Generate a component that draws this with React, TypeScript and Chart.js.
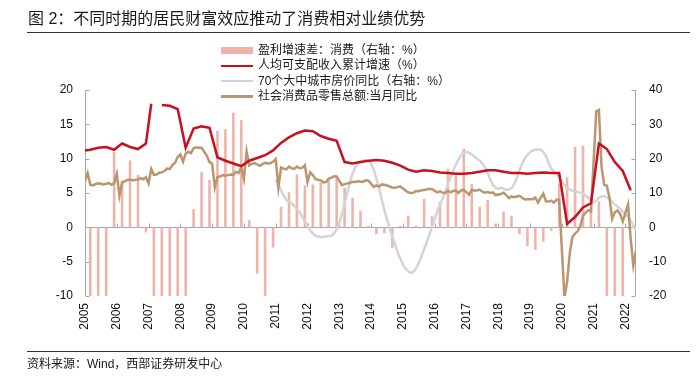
import React, { useEffect, useRef } from 'react';
import { Chart, registerables } from 'chart.js';

Chart.register(...registerables);

// ---------------- data ----------------
const START_YEAR = 2005;
const LAST_INDEX = 208; // 2022-05, month index from 2005-01
const yearTicks = [0, 12, 24, 36, 48, 60, 72, 84, 96, 108, 120, 132, 144, 156, 168, 180, 192, 204];

const legendLabels = [
  '盈利增速差：消费（右轴：%）',
  '人均可支配收入累计增速（%）',
  '70个大中城市房价同比（右轴：%）',
  '社会消费品零售总额:当月同比',
];

// 盈利增速差：消费 (quarterly, right axis) 2005Q1 .. 2021Q4
const spreadValues = [
  -25, -25, -25, 21.9,
  13.6, 19.5, 15.3, -1.5,
  -25, -25, -25, -25,
  -25, 5.3, 16.1, 13.8,
  28.1, 28.6, 33.4, 31.2,
  2.1, -13.5, -25, -5.9,
  6.0, 10.2, 15.4, 12.2,
  12.5, 13.1, 13.8, 14.4,
  11.5, 8.6, 4.8, 0.4,
  -2.0, -1.7, -5.9, 0.5,
  3.4, 0.5, 8.3, 3.2,
  7.5, 17.1, 15.1, 22.9,
  12.7, 6.0, 8.0, 1.1,
  4.6, 3.4, -2.0, -5.5,
  -6.5, -4.2, -1.0, 12.7,
  14.6, 23.4, 23.7, 5.5,
  7.5, -25, -25, -25,
];

// 人均可支配收入累计增速 (left axis): month index -> value
const incomeMonths = [
  0, 2, 5, 8, 11, 14, 17, 20, 23, 25, 29, 32, 35, 38, 41, 44, 47, 50, 53, 56, 59,
  62, 65, 68, 71, 74, 77, 80, 83, 86, 89, 92, 95, 98, 101, 104, 107, 110, 113, 116, 119,
  122, 125, 128, 131, 134, 137, 140, 143, 146, 149, 152, 155, 158, 161, 164, 167,
  170, 173, 176, 179, 182, 185, 188, 191, 194, 197, 200, 203, 206,
];
const incomeGrowth = [
  11.2, 11.3, 11.6, 11.7, 11.3, 12.2, 11.7, 11.4, 12.2, 18.0, 17.8, 17.7, 17.2, 11.6, 14.4, 14.7, 14.5, 10.2, 9.7, 9.3, 8.9,
  9.7, 10.1, 10.5, 11.2, 12.3, 13.1, 13.7, 14.1, 14.0, 13.3, 12.9, 12.6, 9.5, 9.3, 9.5, 9.7, 9.8, 9.7, 9.4, 9.0,
  8.4, 8.1, 8.3, 8.2, 8.0, 7.9, 7.8, 7.8, 7.9, 8.1, 8.3, 8.3, 8.1, 7.9, 7.9, 7.8,
  7.9, 8.0, 7.9, 7.9, 0.5, 1.5, 2.9, 3.5, 12.2, 11.4, 9.5, 8.2, 5.4,
];

// 70个大中城市房价同比 (right axis), monthly from 2011-01
const houseStartIndex = 72;
const houseYoY = [
  13.8, 12.4, 10.8, 9.2, 8.0, 7.4, 7.0, 6.2, 5.3, 4.4, 3.2, 1.8,
  0.4, -0.9, -1.8, -2.4, -2.7, -2.8, -2.8, -2.7, -2.6, -2.5, -1.8, -0.6,
  1.3, 3.9, 7.0, 10.0, 13.2, 15.7, 17.4, 18.6, 19.1, 19.4, 19.5, 19.3,
  18.6, 16.8, 14.2, 11.4, 8.2, 5.0, 2.3, -0.4, -2.6, -4.9, -7.2, -9.1,
  -10.8, -12.0, -12.8, -13.3, -12.9, -11.9, -10.3, -8.4, -6.4, -4.3, -2.1, 0.2,
  2.5, 4.6, 6.6, 8.4, 10.4, 12.4, 14.5, 16.5, 18.3, 19.8, 21.0, 21.7,
  21.9, 21.7, 21.2, 20.6, 20.0, 19.4, 18.6, 17.4, 15.8, 13.9, 12.3, 11.5,
  11.2, 11.6, 11.3, 10.9, 11.0, 11.3, 12.6, 14.4, 16.6, 18.5, 20.0, 21.1,
  21.9, 22.4, 22.6, 22.7, 22.6, 22.0, 20.8, 18.8, 17.1, 16.2, 15.6, 14.6,
  13.4, 12.3, 11.4, 11.0, 10.7, 10.5, 10.3, 10.1, 9.8, 9.2, 8.6, 7.8,
  7.3, 7.8, 8.6, 9.0, 9.1, 8.7, 8.1, 7.4, 6.7, 6.1, 5.4, 4.6,
  3.8, 2.9, 1.8, 0.5, -1.0,
];

// 社会消费品零售总额:当月同比 (right axis), monthly 2005-01 .. 2022-05
const retailYoY: (number | null)[] = [
  13.5, 15.8, 12.4, 12.2, 12.6, 12.8, 12.7, 12.5, 12.7, 12.9, 12.4, 12.8,
  15.6, 9.2, 13.1, 13.4, 13.8, 13.9, 13.7, 13.8, 13.9, 14.3, 14.0, 14.6,
  12.8, 17.0, 15.3, 15.4, 15.9, 16.0, 16.4, 17.1, 17.0, 18.1, 18.8, 20.5,
  21.2, 19.1, 21.5, 22.0, 21.6, 23.0, 23.3, 23.2, 23.2, 22.0, 20.8, 19.0,
  18.5, 11.6, 14.7, 14.8, 15.2, 15.0, 15.2, 15.4, 15.3, 16.2, 15.8, 17.5,
  14.1, 22.1, 18.0, 18.5, 18.7, 18.3, 17.9, 18.4, 18.8, 18.6, 18.7, 19.1,
  19.9, 11.6, 17.4, 17.1, 16.9, 17.7, 17.2, 17.0, 17.7, 17.2, 17.3, 18.1,
  13.2, 16.0, 15.2, 14.1, 13.8, 13.7, 13.1, 13.2, 14.2, 14.5, 14.9, 14.8,
  null, 12.3, 12.6, 12.8, 12.9, 13.3, 13.2, 13.4, 13.3, 13.3, 13.7, 13.6,
  null, 11.8, 12.2, 11.9, 12.5, 12.4, 12.2, 11.9, 11.6, 11.5, 11.7, 11.9,
  null, 10.7, 10.2, 10.0, 10.1, 10.6, 10.5, 10.8, 10.9, 11.0, 11.2, 11.1,
  null, 10.2, 10.5, 10.1, 10.0, 10.6, 10.2, 10.6, 10.7, 10.0, 10.8, 10.9,
  null, 9.5, 10.9, 10.7, 10.7, 11.0, 10.4, 10.1, 10.3, 10.0, 10.2, 9.4,
  null, 9.7, 10.1, 9.4, 8.5, 9.0, 8.8, 9.0, 9.2, 8.6, 8.1, 8.2,
  null, 8.2, 8.7, 7.2, 8.6, 9.8, 7.6, 7.5, 7.8, 7.2, 8.0, 8.0,
  null, -20.5, -15.8, -7.5, -2.8, -1.8, -1.1, 0.5, 3.3, 4.3, 5.0, 4.6,
  null, 33.8, 34.2, 17.7, 12.4, 12.1, 8.5, 2.5, 4.4, 4.9, 3.9, 1.7,
  null, 6.7, -3.5, -11.1, -6.7,
];

// ---------------- styles ----------------
const PINK = '#EDB5A9';
const RED = '#C8101E';
const GRAY = '#D4D4D4';
const BROWN = '#B9966E';
const AXIS = '#A6A6A6';
const LATIN = "'Liberation Sans', Arial, 'Noto Sans CJK SC', sans-serif";

Chart.defaults.font.family = LATIN;

const spreadPoints = spreadValues.map((v, i) => ({ x: i * 3 + 2, y: v }));
const incomePoints = incomeMonths.map((m, i) => ({ x: m, y: incomeGrowth[i] }));
const housePoints = houseYoY.map((v, i) => ({ x: houseStartIndex + i, y: v }));
const retailPoints = retailYoY.map((v, i) => ({ x: i, y: v }));

const axisPlugin = {
  id: 'axisLines',
  beforeDatasetsDraw(chart: any) {
    const { ctx, chartArea, scales } = chart;
    const { left, right, top, bottom } = chartArea;
    const yL = scales.y;
    const yR = scales.y1;
    const xs = scales.x;
    const seg = (x1: number, y1: number, x2: number, y2: number) => {
      ctx.beginPath();
      ctx.moveTo(x1, y1);
      ctx.lineTo(x2, y2);
      ctx.stroke();
    };
    ctx.save();
    ctx.strokeStyle = AXIS;
    ctx.lineWidth = 1;
    const lx = Math.round(left) + 0.5;
    const rx = Math.round(right) - 0.5;
    seg(lx, top, lx, bottom);
    seg(rx, top, rx, bottom);
    const y0 = Math.round(yL.getPixelForValue(0)) + 0.5;
    seg(left, y0, right, y0);
    yL.ticks.forEach((t: any) => {
      const py = Math.round(yL.getPixelForValue(t.value)) + 0.5;
      seg(lx, py, lx + 4, py);
    });
    yR.ticks.forEach((t: any) => {
      const py = Math.round(yR.getPixelForValue(t.value)) + 0.5;
      seg(rx - 4, py, rx, py);
    });
    xs.ticks.forEach((t: any) => {
      const px = Math.round(xs.getPixelForValue(t.value)) + 0.5;
      seg(px, y0, px, y0 - 4);
    });
    ctx.restore();
  },
};

export default function App() {
  const ref = useRef<HTMLCanvasElement>(null);

  useEffect(() => {
    const canvas = ref.current;
    if (!canvas) return;
    const tickFont = { family: LATIN, size: 12 };
    const chart = new Chart(canvas, {
      type: 'line',
      data: {
        datasets: [
          {
            type: 'bar',
            label: legendLabels[0],
            data: spreadPoints,
            yAxisID: 'y1',
            backgroundColor: PINK,
            borderWidth: 0,
            barThickness: 2.6,
            inflateAmount: 0,
            order: 10,
          } as any,
          {
            type: 'line',
            label: legendLabels[1],
            data: incomePoints,
            yAxisID: 'y',
            borderColor: RED,
            borderWidth: 2.5,
            pointRadius: 0,
            tension: 0,
            spanGaps: 3.5,
            order: 1,
          },
          {
            type: 'line',
            label: legendLabels[2],
            data: housePoints,
            yAxisID: 'y1',
            borderColor: GRAY,
            borderWidth: 2.5,
            pointRadius: 0,
            tension: 0,
            order: 3,
          },
          {
            type: 'line',
            label: legendLabels[3],
            data: retailPoints,
            yAxisID: 'y1',
            borderColor: BROWN,
            borderWidth: 2.5,
            pointRadius: 0,
            tension: 0,
            spanGaps: true,
            order: 2,
          },
        ],
      },
      options: {
        responsive: false,
        animation: false,
        events: [],
        layout: { padding: { top: 90, left: 0, right: 0, bottom: 0 } },
        plugins: {
          legend: { display: false },
          tooltip: { enabled: false },
          title: { display: false },
        },
        scales: {
          x: {
            type: 'linear',
            min: 0,
            max: LAST_INDEX,
            offset: false,
            grid: { display: false, drawTicks: false },
            border: { display: false },
            afterBuildTicks: (s: any) => {
              s.ticks = yearTicks.map((v) => ({ value: v }));
            },
            afterFit: (s: any) => {
              s.height = 94;
            },
            ticks: {
              autoSkip: false,
              minRotation: 90,
              maxRotation: 90,
              padding: 7,
              color: '#111',
              font: tickFont,
              callback: (v: any) => String(START_YEAR + Math.round(Number(v) / 12)),
            },
          },
          y: {
            type: 'linear',
            position: 'left',
            min: -10,
            max: 20,
            grid: { display: false, drawTicks: false },
            border: { display: false },
            afterFit: (s: any) => {
              s.width = 85;
            },
            ticks: { stepSize: 5, padding: 12, color: '#111', font: tickFont },
          },
          y1: {
            type: 'linear',
            position: 'right',
            min: -20,
            max: 40,
            grid: { display: false, drawTicks: false },
            border: { display: false },
            afterFit: (s: any) => {
              s.width = 60;
            },
            ticks: { stepSize: 10, padding: 13, color: '#111', font: tickFont },
          },
        },
      } as any,
      plugins: [axisPlugin],
    });
    return () => chart.destroy();
  }, []);

  const swatches = [
    { kind: 'box', color: PINK },
    { kind: 'line', color: RED },
    { kind: 'line', color: GRAY },
    { kind: 'line', color: BROWN },
  ];

  return (
    <div
      style={{
        position: 'absolute',
        left: 0,
        top: 0,
        width: 696,
        height: 390,
        background: '#fff',
        overflow: 'hidden',
        fontFamily: LATIN,
        color: '#1a1a1a',
      }}
    >
      <canvas ref={ref} width={696} height={390} style={{ position: 'absolute', left: 0, top: 0, display: 'block' }} />
      <div style={{ position: 'absolute', left: 28, top: 9, fontSize: 16, lineHeight: '20px', whiteSpace: 'nowrap' }}>
        图 2：不同时期的居民财富效应推动了消费相对业绩优势
      </div>
      <div style={{ position: 'absolute', left: 27, top: 32, width: 663, height: 0, borderTop: '1.5px solid #333' }} />
      <div style={{ position: 'absolute', left: 221, top: 43, fontSize: 12 }}>
        {legendLabels.map((t, i) => (
          <div key={i} style={{ display: 'flex', alignItems: 'center', height: 15.3, whiteSpace: 'nowrap' }}>
            <div style={{ width: 32, display: 'flex', alignItems: 'center', marginRight: 5 }}>
              {swatches[i].kind === 'box' ? (
                <div style={{ width: 32, height: 7, background: swatches[i].color }} />
              ) : (
                <div style={{ width: 32, height: 2.5, background: swatches[i].color }} />
              )}
            </div>
            <span style={{ lineHeight: '15px' }}>{t}</span>
          </div>
        ))}
      </div>
      <div style={{ position: 'absolute', left: 27, top: 351, width: 663, height: 0, borderTop: '1.5px solid #333' }} />
      <div style={{ position: 'absolute', left: 27, top: 357, fontSize: 12, lineHeight: '15px', whiteSpace: 'nowrap' }}>
        资料来源：Wind，西部证券研发中心
      </div>
    </div>
  );
}
